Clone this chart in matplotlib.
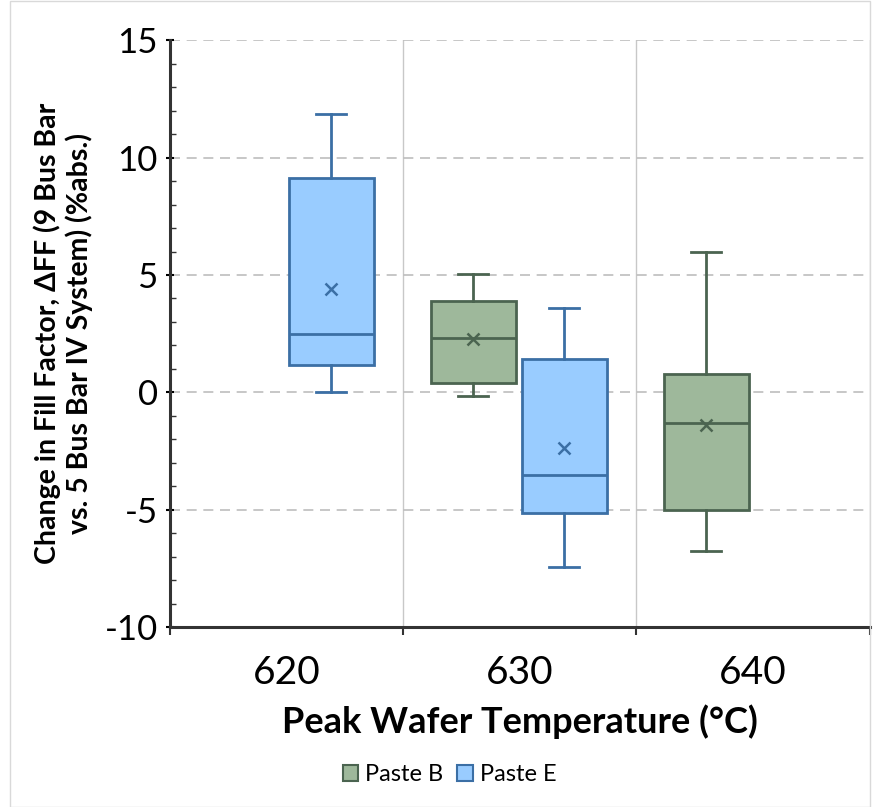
import numpy as np
import matplotlib.pyplot as plt
from matplotlib.patches import Patch, Rectangle

# data
categories = ["620", "630", "640"]
series = ["Paste B", "Paste E"]

# per box: category index, series, whisker low, Q1, median, Q3, whisker high, mean
box_cat = [0, 1, 1, 2]
box_series = ["Paste E", "Paste B", "Paste E", "Paste B"]
whislo = [0.0, -0.17, -7.46, -6.78]
q1 = [1.15, 0.40, -5.13, -5.02]
med = [2.50, 2.32, -3.51, -1.29]
q3 = [9.14, 3.88, 1.42, 0.80]
whishi = [11.88, 5.04, 3.58, 5.98]
mean = [4.40, 2.27, -2.39, -1.38]

fill_colors = {"Paste B": "#9eb89b", "Paste E": "#99ccff"}
edge_colors = {"Paste B": "#4b6450", "Paste E": "#3b6fa5"}
offsets = {"Paste B": -0.2, "Paste E": 0.19}

plt.rcParams['font.family'] = ['Lato', 'DejaVu Sans']

fig = plt.figure(figsize=(8.73, 8.07), dpi=100)
ax = fig.add_axes([0.195, 0.223, 0.801, 0.727])

for i in range(len(box_cat)):
	s = box_series[i]
	stats = [dict(whislo=whislo[i], q1=q1[i], med=med[i], q3=q3[i],
				  whishi=whishi[i], mean=mean[i], fliers=[])]
	ec = edge_colors[s]
	ax.bxp(stats, positions=[box_cat[i] + offsets[s]], widths=0.365,
		   patch_artist=True, showmeans=True, showfliers=False,
		   boxprops=dict(facecolor=fill_colors[s], edgecolor=ec, linewidth=2),
		   medianprops=dict(color=ec, linewidth=2),
		   whiskerprops=dict(color=ec, linewidth=2),
		   capprops=dict(color=ec, linewidth=2),
		   capwidths=0.13,
		   meanprops=dict(marker='x', markeredgecolor=ec, markersize=9, markeredgewidth=1.8),
		   zorder=3)

ax.set_xlim(-0.5, 2.5)
ax.set_ylim(-10, 15)

ax.set_xticks([0, 1, 2])
ax.set_xticklabels(categories, fontsize=28)
ax.set_xticks([-0.5, 0.5, 1.5, 2.5], minor=True)
ax.tick_params(axis='x', which='major', length=0, pad=20)
ax.tick_params(axis='x', which='minor', length=6, width=1.5, color='#333333', direction='out')
ax.grid(axis='x', which='minor', color='#c8c8c8', linewidth=1, linestyle='-', zorder=0)

ax.set_yticks([-10, -5, 0, 5, 10, 15])
ax.set_yticklabels(["-10", "-5", "0", "5", "10", "15"], fontsize=25)
ax.set_yticks(np.arange(-10, 15, 1), minor=True)
ax.tick_params(axis='y', which='major', length=6, width=1.5, direction='inout', pad=6)
ax.tick_params(axis='y', which='minor', length=4, width=1, direction='in', color='#333333')
ax.grid(axis='y', which='major', color='#bdbdbd', linewidth=1.2, linestyle=(0, (6, 4)), zorder=0)
ax.set_axisbelow(True)

for sp in ['top', 'right']:
	ax.spines[sp].set_visible(False)
for sp in ['left', 'bottom']:
	ax.spines[sp].set_linewidth(2.2)
	ax.spines[sp].set_color('#333333')

ax.set_xlabel("Peak Wafer Temperature (°C)", fontsize=26, fontweight='bold', labelpad=10)
ax.set_ylabel("Change in Fill Factor, ΔFF (9 Bus Bar\nvs. 5 Bus Bar IV System) (%abs.)",
			  fontsize=20.5, fontweight='bold', labelpad=8, linespacing=1.2)

handles = [Patch(facecolor=fill_colors[s], edgecolor=edge_colors[s], linewidth=1.5, label=s) for s in series]
fig.legend(handles=handles, loc='center', bbox_to_anchor=(0.515, 0.04), ncol=2, frameon=False,
		   fontsize=17, handlelength=0.65, handleheight=0.65, handletextpad=0.3, columnspacing=0.6)

# light frame around the chart
fig.patches.append(Rectangle((0.012, 0.0), 0.985, 0.999, transform=fig.transFigure,
							 fill=False, edgecolor='#d9d9d9', linewidth=1))

fig.savefig("out.png", dpi=100)
plt.close()
